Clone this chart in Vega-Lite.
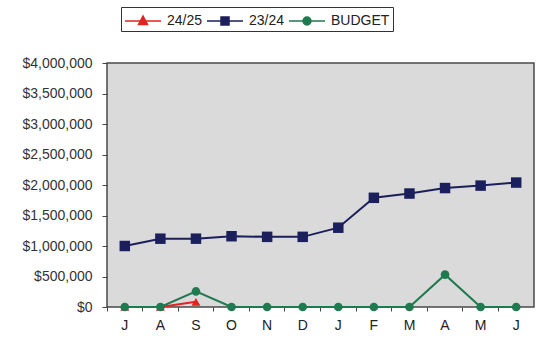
{
  "$schema": "https://vega.github.io/schema/vega-lite/v6.json",
  "autosize": {"type": "none"},
  "padding": {"left": 107, "top": 63, "right": 7, "bottom": 47},
  "width": 427,
  "height": 244,
  "background": "white",
  "config": {
    "font": "Liberation Sans",
    "view": {"fill": "#dadada", "stroke": "#4a4a4a", "strokeWidth": 1.5},
    "legend": {
      "orient": "none",
      "legendX": 14,
      "legendY": -56,
      "direction": "horizontal",
      "strokeColor": "#333",
      "fillColor": "white",
      "padding": 3,
      "symbolSize": 400,
      "symbolStrokeWidth": 1.5,
      "symbolOpacity": 1,
      "labelFontSize": 14,
      "labelColor": "#222",
      "labelOffset": 21,
      "columnPadding": 1
    }
  },
  "data": {
    "values": [
      {"month": "Jul", "series": "24/25", "value": 0},
      {"month": "Aug", "series": "24/25", "value": 0},
      {"month": "Sep", "series": "24/25", "value": 85000},
      {"month": "Jul", "series": "23/24", "value": 1000000},
      {"month": "Aug", "series": "23/24", "value": 1120000},
      {"month": "Sep", "series": "23/24", "value": 1120000},
      {"month": "Oct", "series": "23/24", "value": 1160000},
      {"month": "Nov", "series": "23/24", "value": 1150000},
      {"month": "Dec", "series": "23/24", "value": 1150000},
      {"month": "Jan", "series": "23/24", "value": 1300000},
      {"month": "Feb", "series": "23/24", "value": 1790000},
      {"month": "Mar", "series": "23/24", "value": 1860000},
      {"month": "Apr", "series": "23/24", "value": 1950000},
      {"month": "May", "series": "23/24", "value": 1990000},
      {"month": "Jun", "series": "23/24", "value": 2040000},
      {"month": "Jul", "series": "BUDGET", "value": 0},
      {"month": "Aug", "series": "BUDGET", "value": 0},
      {"month": "Sep", "series": "BUDGET", "value": 255000},
      {"month": "Oct", "series": "BUDGET", "value": 0},
      {"month": "Nov", "series": "BUDGET", "value": 0},
      {"month": "Dec", "series": "BUDGET", "value": 0},
      {"month": "Jan", "series": "BUDGET", "value": 0},
      {"month": "Feb", "series": "BUDGET", "value": 0},
      {"month": "Mar", "series": "BUDGET", "value": 0},
      {"month": "Apr", "series": "BUDGET", "value": 530000},
      {"month": "May", "series": "BUDGET", "value": 0},
      {"month": "Jun", "series": "BUDGET", "value": 0}
    ]
  },
  "encoding": {
    "x": {
      "field": "month",
      "type": "ordinal",
      "sort": ["Jul","Aug","Sep","Oct","Nov","Dec","Jan","Feb","Mar","Apr","May","Jun"],
      "scale": {"type": "band", "paddingInner": 0, "paddingOuter": 0},
      "axis": {
        "title": null,
        "labelAngle": 0,
        "labelExpr": "substring(datum.label, 0, 1)",
        "labelFontSize": 14,
        "labelColor": "#222",
        "labelPadding": 7,
        "bandPosition": 0,
        "tickSize": 4,
        "tickColor": "#444",
        "domain": false,
        "grid": false
      }
    },
    "y": {
      "field": "value",
      "type": "quantitative",
      "scale": {"domain": [0, 4000000], "nice": false},
      "axis": {
        "title": null,
        "values": [0,500000,1000000,1500000,2000000,2500000,3000000,3500000,4000000],
        "format": "$,.0f",
        "labelFontSize": 14,
        "labelColor": "#333",
        "labelPadding": 10,
        "tickSize": 5,
        "tickColor": "#444",
        "domain": false,
        "grid": false
      }
    }
  },
  "layer": [
    {
      "mark": {"type": "line", "strokeWidth": 2},
      "encoding": {
        "color": {
          "field": "series",
          "type": "nominal",
          "scale": {"domain": ["23/24","24/25","BUDGET"], "range": ["#1b1f5c","#e3231f","#1f7a50"]},
          "legend": null
        }
      }
    },
    {
      "transform": [{"filter": "datum.series === '24/25'"}],
      "mark": {"type": "point", "filled": true, "opacity": 1, "shape": "triangle-up", "size": 80, "color": "#e3231f"}
    },
    {
      "transform": [{"filter": "datum.series === '23/24'"}],
      "mark": {"type": "point", "filled": true, "opacity": 1, "shape": "square", "size": 110, "color": "#1b1f5c"}
    },
    {
      "transform": [{"filter": "datum.series === 'BUDGET'"}],
      "mark": {"type": "point", "filled": true, "opacity": 1, "shape": "circle", "size": 75, "color": "#1f7a50"}
    },
    {
      "mark": {"type": "point", "filled": true, "opacity": 0, "strokeWidth": 1.5},
      "encoding": {
        "fill": {
          "field": "series",
          "type": "nominal",
          "title": null,
          "scale": {"domain": ["24/25","23/24","BUDGET"], "range": ["#e3231f","#1b1f5c","#1f7a50"]}
        },
        "stroke": {
          "field": "series",
          "type": "nominal",
          "title": null,
          "scale": {"domain": ["24/25","23/24","BUDGET"], "range": ["#e3231f","#1b1f5c","#1f7a50"]}
        },
        "shape": {
          "field": "series",
          "type": "nominal",
          "title": null,
          "scale": {"domain": ["24/25","23/24","BUDGET"], "range": ["M-1,0H2.6M0.8,-0.5L1.25,0.35L0.35,0.35Z", "M-1,0H2.6M0.4,-0.4H1.2V0.4H0.4Z", "M-1,0H2.6M0.4,0A0.4,0.4,0,1,0,1.2,0A0.4,0.4,0,1,0,0.4,0Z"]}
        }
      }
    }
  ]
}
